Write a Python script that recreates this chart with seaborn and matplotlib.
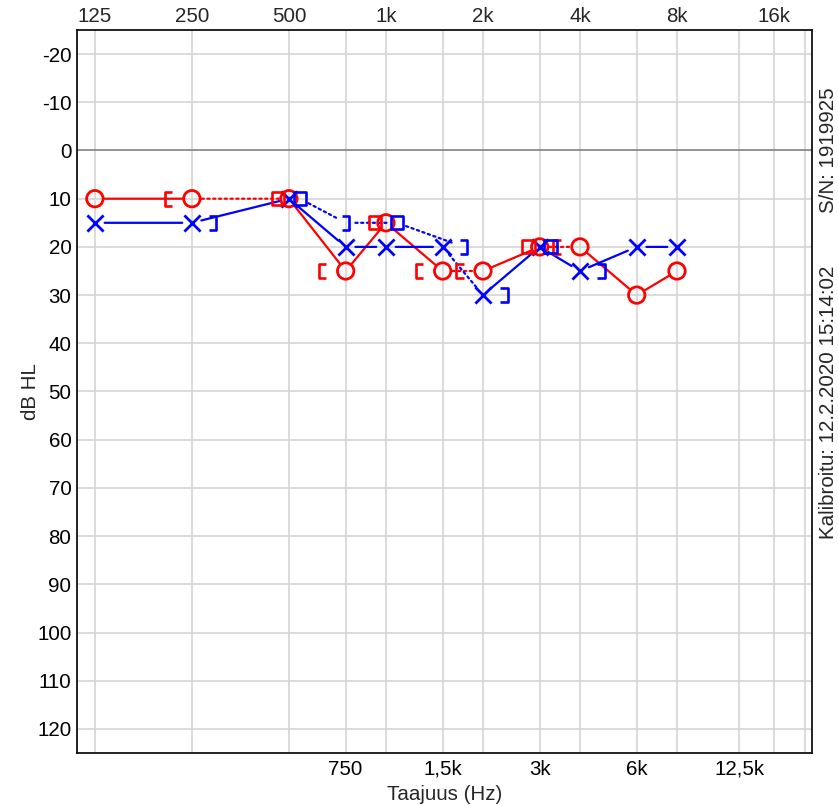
import matplotlib
matplotlib.use("Agg")
import matplotlib.pyplot as plt
from matplotlib.path import Path
from matplotlib.transforms import ScaledTranslation
import seaborn as sns

# Audiogram data (frequency in Hz, threshold in dB HL)
freqs = [125, 250, 500, 750, 1000, 1500, 2000, 3000, 4000, 6000, 8000]
right_ac = [10, 10, 10, 25, 15, 25, 25, 20, 20, 30, 25]
left_ac = [15, 15, 10, 20, 20, 20, 30, 20, 25, 20, 20]
# style of each connecting segment between consecutive air-conduction points
right_ac_links = ["-", ":", "-", "-", "-", ":", "-", ":", "-", "-"]
left_ac_links = ["-", "-", "-", "-", "-", ":", "-", "-", "-", "-"]

bc_freqs = [250, 500, 750, 1000, 1500, 2000, 3000, 4000]
right_bc = [10, 10, 25, 15, 25, 25, 20, 20]
right_bc_kind = ["bracket", "square", "bracket", "square", "bracket", "bracket", "square", "bracket"]
left_bc = [15, 10, 15, 15, 20, 30, 20, 25]
left_bc_kind = ["bracket", "square", "bracket", "square", "bracket", "bracket", "square", "bracket"]
left_bc_links = [None, ":", ":", ":", None, None, None]

top_ticks = [125, 250, 500, 1000, 2000, 4000, 8000, 16000]
top_labels = ["125", "250", "500", "1k", "2k", "4k", "8k", "16k"]
bottom_ticks = [750, 1500, 3000, 6000, 12500]
bottom_labels = ["750", "1,5k", "3k", "6k", "12,5k"]
extra_grid = [20000]
db_ticks = list(range(-20, 121, 10))

RED = "#ff0000"
BLUE = "#0000ff"

sns.set_theme(style="white")
plt.rcParams["font.family"] = ["Liberation Sans", "DejaVu Sans"]
FS = 14.8

fig = plt.figure(figsize=(8.38, 8.05), dpi=100)
ax = fig.add_axes([77 / 838, 1 - 753 / 805, (812 - 77) / 838, (753 - 30) / 805])

# marker shapes for bone conduction symbols
lb = Path([(0.5, 1), (-0.5, 1), (-0.5, -1), (0.5, -1)],
          [Path.MOVETO, Path.LINETO, Path.LINETO, Path.LINETO])
rb = Path([(-0.5, 1), (0.5, 1), (0.5, -1), (-0.5, -1)],
          [Path.MOVETO, Path.LINETO, Path.LINETO, Path.LINETO])


def shifted(dx_px):
    return ax.transData + ScaledTranslation(dx_px / 100, 0, fig.dpi_scale_trans)


# side shift (pixels) used when a symbol would sit on top of an air-conduction symbol
side_shift = {("R", "bracket"): -23, ("R", "square"): -11,
              ("L", "bracket"): 21, ("L", "square"): 11}
shapes = {("R", "bracket"): lb, ("R", "square"): "s",
          ("L", "bracket"): rb, ("L", "square"): "s"}


def bc_shift(ear, kind, f, v):
    i = freqs.index(f)
    if v == right_ac[i] or v == left_ac[i]:
        return side_shift[(ear, kind)]
    return 0


# air-conduction symbols
sns.scatterplot(x=freqs, y=right_ac, ax=ax, marker="o", s=140,
                facecolor="none", edgecolor=RED, linewidth=2, zorder=5, legend=False)
sns.scatterplot(x=freqs, y=left_ac, ax=ax, marker="x", s=135,
                color=BLUE, linewidth=2, zorder=5, legend=False)

# bone-conduction / masked symbols
for ear, vals, kinds, col in [("R", right_bc, right_bc_kind, RED),
                              ("L", left_bc, left_bc_kind, BLUE)]:
    groups = {}
    for f, v, k in zip(bc_freqs, vals, kinds):
        groups.setdefault((k, bc_shift(ear, k, f, v)), []).append((f, v))
    for (kind, dx), pts in groups.items():
        sns.scatterplot(x=[p[0] for p in pts], y=[p[1] for p in pts], ax=ax,
                        marker=shapes[(ear, kind)],
                        s=85 if kind == "square" else 105,
                        facecolor="none", edgecolor=col, linewidth=1.9,
                        transform=shifted(dx), zorder=5, legend=False)

ax.set_xscale("log")
ax.set_xlim(110, 20990)
ax.set_ylim(125, -25)

DOT = (0, (1, 1.6))


def link(p0, p1, col, ls, t0=None, t1=None):
    ax.annotate("", xy=p1, xycoords=t1 or ax.transData,
                xytext=p0, textcoords=t0 or ax.transData,
                arrowprops=dict(arrowstyle="-", color=col, lw=1.6,
                                linestyle=DOT if ls == ":" else "-",
                                shrinkA=7, shrinkB=7),
                zorder=4)


for vals, links, col in [(right_ac, right_ac_links, RED), (left_ac, left_ac_links, BLUE)]:
    for i, ls in enumerate(links):
        link((freqs[i], vals[i]), (freqs[i + 1], vals[i + 1]), col, ls)

for i, ls in enumerate(left_bc_links):
    if ls is None:
        continue
    f0, f1 = bc_freqs[i], bc_freqs[i + 1]
    v0, v1 = left_bc[i], left_bc[i + 1]
    t0 = shifted(bc_shift("L", left_bc_kind[i], f0, v0))
    t1 = shifted(bc_shift("L", left_bc_kind[i + 1], f1, v1))
    link((f0, v0), (f1, v1), BLUE, ls, t0, t1)

# grid
grid_freqs = sorted(top_ticks + bottom_ticks + extra_grid)
for f in grid_freqs:
    ax.axvline(f, color="#d4d4d4", lw=1.2, zorder=0)
for d in db_ticks:
    ax.axhline(d, color="#808080" if d == 0 else "#d4d4d4", lw=1.2, zorder=0)

ax.set_xticks(bottom_ticks)
ax.set_xticklabels(bottom_labels)
ax.xaxis.set_minor_locator(matplotlib.ticker.NullLocator())
ax.set_yticks(db_ticks)
ax.set_yticklabels([str(d) for d in db_ticks])
ax.tick_params(axis="both", length=0, labelsize=FS, colors="black")
ax.tick_params(axis="x", pad=5)
ax.tick_params(axis="y", pad=4)

top = ax.secondary_xaxis("top")
top.set_xticks(top_ticks)
top.set_xticklabels(top_labels)
top.xaxis.set_minor_locator(matplotlib.ticker.NullLocator())
top.tick_params(length=0, labelsize=FS, pad=3)
top.spines["top"].set_visible(False)

for s in ax.spines.values():
    s.set_color("#111111")
    s.set_linewidth(1.3)
    s.set_visible(True)

ax.set_xlabel("Taajuus (Hz)", fontsize=FS, labelpad=4)
ax.set_ylabel("dB HL", fontsize=FS, labelpad=-2)

fig.text(828 / 838, 1 - 150 / 805, "S/N: 1919925", rotation=90,
         ha="center", va="center", fontsize=FS)
fig.text(828 / 838, 1 - 402 / 805, "Kalibroitu: 12.2.2020 15:14:02", rotation=90,
         ha="center", va="center", fontsize=FS)

fig.savefig("out.png", dpi=100, facecolor="white")
